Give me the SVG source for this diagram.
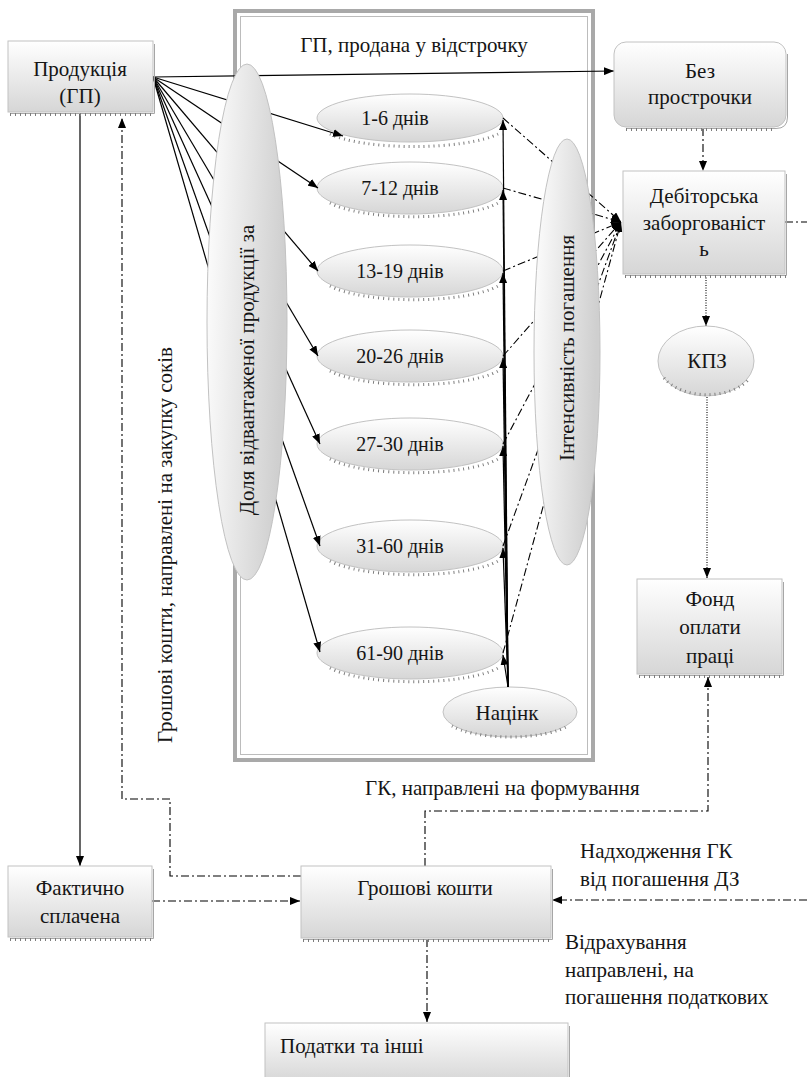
<svg xmlns="http://www.w3.org/2000/svg" width="807" height="1077" viewBox="0 0 807 1077">
<defs>
  <linearGradient id="gBox" x1="0" y1="0" x2="0" y2="1">
    <stop offset="0" stop-color="#ffffff"/>
    <stop offset="1" stop-color="#d6d6d6"/>
  </linearGradient>
  <linearGradient id="gV" x1="0" y1="0" x2="1" y2="0.2">
    <stop offset="0" stop-color="#ffffff"/>
    <stop offset="1" stop-color="#cfcfcf"/>
  </linearGradient>
  <marker id="arr" viewBox="0 0 10 8" refX="10" refY="4" markerWidth="10" markerHeight="8" markerUnits="userSpaceOnUse" orient="auto">
    <path d="M0,0 L10,4 L0,8 z" fill="#000"/>
  </marker>
</defs>

<rect width="807" height="1077" fill="#fff"/>

<!-- deferred-sale frame -->
<g id="frame">
  <rect x="235" y="11" width="358" height="749" fill="#fff" stroke="#a9a9a9" stroke-width="4"/>
  <rect x="240.5" y="16.5" width="347" height="738" fill="none" stroke="#bcbcbc" stroke-width="1"/>
  <text x="414" y="52" text-anchor="middle" font-family="Liberation Serif" font-size="21" fill="#151515">ГП, продана у відстрочку</text>
</g>

<!-- day-range nodes -->
<g id="day-nodes" fill="url(#gBox)" stroke="#c2c2c2">
<g id="d1">
  <ellipse cx="410" cy="118" rx="93" ry="24"/>
  <path d="M330,134 A93,22 0 0 0 498,134" fill="none" stroke="#7c7c7c" stroke-width="3" stroke-dasharray="1 4"/>
  <text x="395" y="125" text-anchor="middle" stroke="none" font-family="Liberation Serif" font-size="20" fill="#151515">1-6 днів</text>
</g>
<g id="d2">
  <ellipse cx="410" cy="188" rx="93" ry="26"/>
  <path d="M330,203 A93,24 0 0 0 498,203" fill="none" stroke="#7c7c7c" stroke-width="3" stroke-dasharray="1 4"/>
  <text x="400" y="195" text-anchor="middle" stroke="none" font-family="Liberation Serif" font-size="20" fill="#151515">7-12 днів</text>
</g>
<g id="d3">
  <ellipse cx="410" cy="271" rx="93" ry="26"/>
  <path d="M330,286 A93,24 0 0 0 498,286" fill="none" stroke="#7c7c7c" stroke-width="3" stroke-dasharray="1 4"/>
  <text x="400" y="278" text-anchor="middle" stroke="none" font-family="Liberation Serif" font-size="20" fill="#151515">13-19 днів</text>
</g>
<g id="d4">
  <ellipse cx="410" cy="356" rx="93" ry="26"/>
  <path d="M330,371 A93,24 0 0 0 498,371" fill="none" stroke="#7c7c7c" stroke-width="3" stroke-dasharray="1 4"/>
  <text x="400" y="363" text-anchor="middle" stroke="none" font-family="Liberation Serif" font-size="20" fill="#151515">20-26 днів</text>
</g>
<g id="d5">
  <ellipse cx="410" cy="444" rx="93" ry="26"/>
  <path d="M330,459 A93,24 0 0 0 498,459" fill="none" stroke="#7c7c7c" stroke-width="3" stroke-dasharray="1 4"/>
  <text x="400" y="451" text-anchor="middle" stroke="none" font-family="Liberation Serif" font-size="20" fill="#151515">27-30 днів</text>
</g>
<g id="d6">
  <ellipse cx="410" cy="546" rx="93" ry="26"/>
  <path d="M330,561 A93,24 0 0 0 498,561" fill="none" stroke="#7c7c7c" stroke-width="3" stroke-dasharray="1 4"/>
  <text x="400" y="553" text-anchor="middle" stroke="none" font-family="Liberation Serif" font-size="20" fill="#151515">31-60 днів</text>
</g>
<g id="d7">
  <ellipse cx="410" cy="653" rx="93" ry="26"/>
  <path d="M330,668 A93,24 0 0 0 498,668" fill="none" stroke="#7c7c7c" stroke-width="3" stroke-dasharray="1 4"/>
  <text x="400" y="660" text-anchor="middle" stroke="none" font-family="Liberation Serif" font-size="20" fill="#151515">61-90 днів</text>
</g>
<g id="markup">
  <ellipse cx="510" cy="712" rx="67" ry="25"/>
  <path d="M452,726 A67,22 0 0 0 568,726" fill="none" stroke="#7c7c7c" stroke-width="3" stroke-dasharray="1 4"/>
  <text x="507" y="720" text-anchor="middle" stroke="none" font-family="Liberation Serif" font-size="21" fill="#151515">Націнк</text>
</g>
</g>

<!-- connectors -->
<g id="connectors" fill="none" stroke="#000">
  <!-- fan from product, markup arrows -->
  <g stroke-width="1.2" marker-end="url(#arr)">
    <path d="M153,77 L614,71"/>
    <path d="M153,77 L343,136"/>
    <path d="M153,77 L318,188"/>
    <path d="M153,77 L318,271"/>
    <path d="M153,77 L318,356"/>
    <path d="M153,77 L320,444"/>
    <path d="M153,77 L320,546"/>
    <path d="M153,77 L320,652"/>
    <path d="M80,113 V866"/>
    <path d="M508,687 L503,120"/>
    <path d="M508,687 L503,190"/>
    <path d="M508,687 L503,273"/>
    <path d="M508,687 L503,358"/>
    <path d="M508,687 L503,446"/>
    <path d="M508,687 L503,548"/>
    <path d="M508,687 L503,655"/>
  </g>

  <!-- dash-dot flows -->
  <g stroke-width="1.1" stroke-dasharray="8 3 2 3">
    <path d="M503,118 L621,222" marker-end="url(#arr)"/>
    <path d="M503,188 L621,222" marker-end="url(#arr)"/>
    <path d="M503,271 L621,222" marker-end="url(#arr)"/>
    <path d="M503,356 L621,222" marker-end="url(#arr)"/>
    <path d="M503,444 L621,222" marker-end="url(#arr)"/>
    <path d="M503,546 L621,222" marker-end="url(#arr)"/>
    <path d="M503,653 L621,222" marker-end="url(#arr)"/>
    <path d="M703,128 V171" marker-end="url(#arr)"/>
    <path d="M785,222 H807"/>
    <path d="M807,900 H552" marker-end="url(#arr)"/>
    <path d="M152,901 H300" marker-end="url(#arr)"/>
    <path d="M301,876 H170 V799 H122 V118" marker-end="url(#arr)"/>
    <path d="M425,866 V811 H708 V677" marker-end="url(#arr)"/>
    <path d="M427,939 V1022" marker-end="url(#arr)"/>
  </g>

  <!-- dotted flows -->
  <g stroke-width="1.1" stroke-dasharray="1 1.5" marker-end="url(#arr)">
    <path d="M706,275 V326"/>
    <path d="M707,397 V578"/>
  </g>
</g>

<!-- share ellipse -->
<g id="share">
  <ellipse cx="247" cy="322" rx="40" ry="258" fill="url(#gV)" stroke="#c2c2c2"/>
  <text transform="translate(254,370) rotate(-90)" text-anchor="middle" font-family="Liberation Serif" font-size="21" fill="#151515">Доля відвантаженої продукції за</text>
</g>

<!-- repayment intensity ellipse -->
<g id="intensity">
  <ellipse cx="567" cy="352" rx="33" ry="213" fill="url(#gV)" stroke="#c2c2c2"/>
  <text transform="translate(574,348) rotate(-90)" text-anchor="middle" font-family="Liberation Serif" font-size="21" fill="#151515">Інтенсивність погашення</text>
</g>

<!-- rectangular nodes -->
<g id="boxes" fill="url(#gBox)" stroke="#c2c2c2">
<g id="product">
  <rect x="8" y="41" width="145" height="71"/>
  <path d="M10,113.5 H154.5 V44" fill="none" stroke="#a6a6a6"/>
  <path d="M10,114.5 H155" fill="none" stroke="#7c7c7c" stroke-width="3" stroke-dasharray="1 4"/>
  <text x="80" y="76" text-anchor="middle" stroke="none" font-family="Liberation Serif" font-size="21" fill="#151515">Продукція</text>
  <text x="80" y="103" text-anchor="middle" stroke="none" font-family="Liberation Serif" font-size="21" fill="#151515">(ГП)</text>
</g>

<g id="no-delay">
  <rect x="614" y="42" width="172" height="85" rx="12"/>
  <path d="M626,128.5 H776 Q787.5,128.5 787.5,117 V54" fill="none" stroke="#a6a6a6"/>
  <path d="M626,129.5 H776" fill="none" stroke="#7c7c7c" stroke-width="3" stroke-dasharray="1 4"/>
  <text x="700" y="78" text-anchor="middle" stroke="none" font-family="Liberation Serif" font-size="21" fill="#151515">Без</text>
  <text x="700" y="104" text-anchor="middle" stroke="none" font-family="Liberation Serif" font-size="21" fill="#151515">прострочки</text>
</g>

<g id="receivables">
  <rect x="623" y="171" width="162" height="103"/>
  <path d="M625,275.5 H786.5 V174" fill="none" stroke="#a6a6a6"/>
  <path d="M625,276.5 H787" fill="none" stroke="#7c7c7c" stroke-width="3" stroke-dasharray="1 4"/>
  <text x="704" y="203" text-anchor="middle" stroke="none" font-family="Liberation Serif" font-size="21" fill="#151515">Дебіторська</text>
  <text x="704" y="230" text-anchor="middle" stroke="none" font-family="Liberation Serif" font-size="21" fill="#151515">заборгованіст</text>
  <text x="704" y="256" text-anchor="middle" stroke="none" font-family="Liberation Serif" font-size="21" fill="#151515">ь</text>
</g>

<g id="kpz">
  <ellipse cx="706" cy="361" rx="48" ry="35"/>
  <path d="M664,378 A48,30 0 0 0 750,378" fill="none" stroke="#7c7c7c" stroke-width="3" stroke-dasharray="1 4"/>
  <text x="707" y="368" text-anchor="middle" stroke="none" font-family="Liberation Serif" font-size="21" fill="#151515">КПЗ</text>
</g>

<g id="wage-fund">
  <rect x="637" y="579" width="145" height="95"/>
  <path d="M639,675.5 H783.5 V582" fill="none" stroke="#a6a6a6"/>
  <path d="M639,676.5 H784" fill="none" stroke="#7c7c7c" stroke-width="3" stroke-dasharray="1 4"/>
  <text x="710" y="606" text-anchor="middle" stroke="none" font-family="Liberation Serif" font-size="21" fill="#151515">Фонд</text>
  <text x="710" y="634" text-anchor="middle" stroke="none" font-family="Liberation Serif" font-size="21" fill="#151515">оплати</text>
  <text x="710" y="663" text-anchor="middle" stroke="none" font-family="Liberation Serif" font-size="21" fill="#151515">праці</text>
</g>

<g id="paid">
  <rect x="8" y="866" width="144" height="71"/>
  <path d="M10,938.5 H153.5 V869" fill="none" stroke="#a6a6a6"/>
  <path d="M10,939.5 H154" fill="none" stroke="#7c7c7c" stroke-width="3" stroke-dasharray="1 4"/>
  <text x="80" y="895" text-anchor="middle" stroke="none" font-family="Liberation Serif" font-size="21" fill="#151515">Фактично</text>
  <text x="80" y="923" text-anchor="middle" stroke="none" font-family="Liberation Serif" font-size="21" fill="#151515">сплачена</text>
</g>

<g id="cash">
  <rect x="301" y="866" width="250" height="72"/>
  <path d="M303,939.5 H552.5 V869" fill="none" stroke="#a6a6a6"/>
  <path d="M303,940.5 H553" fill="none" stroke="#7c7c7c" stroke-width="3" stroke-dasharray="1 4"/>
  <text x="425" y="895" text-anchor="middle" stroke="none" font-family="Liberation Serif" font-size="21" fill="#151515">Грошові кошти</text>
</g>

<g id="taxes">
  <rect x="265" y="1023" width="303" height="60"/>
  <path d="M569.5,1026 V1077" fill="none" stroke="#a6a6a6"/>
  <text x="280" y="1053" stroke="none" font-family="Liberation Serif" font-size="21" fill="#151515">Податки та інші</text>
</g>
</g>

<!-- free labels -->
<g id="labels">
  <text transform="translate(172,545) rotate(-90)" text-anchor="middle" font-family="Liberation Serif" font-size="21" fill="#151515">Грошові кошти, направлені на закупку соків</text>
  <text x="365" y="795" font-family="Liberation Serif" font-size="21" fill="#151515">ГК, направлені на формування</text>
  <text x="580" y="858" font-family="Liberation Serif" font-size="21" fill="#151515">Надходження ГК</text>
  <text x="580" y="886" font-family="Liberation Serif" font-size="21" fill="#151515">від погашення ДЗ</text>
  <text x="565" y="949" font-family="Liberation Serif" font-size="21" fill="#151515">Відрахування</text>
  <text x="565" y="977" font-family="Liberation Serif" font-size="21" fill="#151515">направлені, на</text>
  <text x="565" y="1004" font-family="Liberation Serif" font-size="21" fill="#151515">погашення податкових</text>
</g>
</svg>
